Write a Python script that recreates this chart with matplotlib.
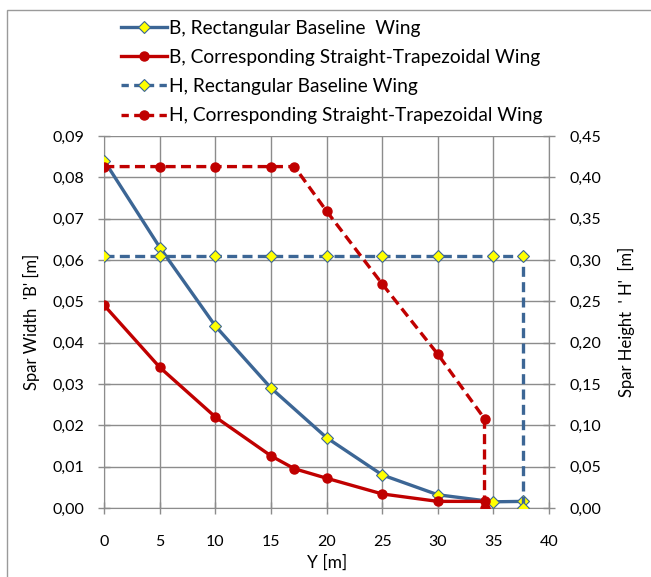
import matplotlib.pyplot as plt
from matplotlib.lines import Line2D
from matplotlib.patches import Rectangle

plt.rcParams["font.family"] = ["Lato", "DejaVu Sans"]

# B (spar width), rectangular baseline wing
y_b_rect = [0, 5, 10, 15, 20, 25, 30, 35, 37.66]
b_rect = [0.084, 0.063, 0.044, 0.029, 0.017, 0.008, 0.0032, 0.0015, 0.0016]

# B, corresponding straight-trapezoidal wing
y_b_trap = [0, 5, 10, 15, 17.1, 20, 25, 30, 34.2]
b_trap = [0.049, 0.034, 0.022, 0.0126, 0.0095, 0.0072, 0.0034, 0.0016, 0.0016]

# H (spar height), rectangular baseline wing
y_h_rect = [0, 5, 10, 15, 20, 25, 30, 35, 37.66, 37.66]
h_rect = [0.305, 0.305, 0.305, 0.305, 0.305, 0.305, 0.305, 0.305, 0.305, 0.0]

# H, corresponding straight-trapezoidal wing
y_h_trap = [0, 5, 10, 15, 17.1, 20, 25, 30, 34.2, 34.2]
h_trap = [0.413, 0.413, 0.413, 0.413, 0.413, 0.359, 0.271, 0.186, 0.108, 0.0]

labels = [
    "B, Rectangular Baseline  Wing",
    "B, Corresponding Straight-Trapezoidal Wing",
    "H, Rectangular Baseline Wing",
    "H, Corresponding Straight-Trapezoidal Wing",
]

BLUE = "#3c6695"
RED = "#c00000"
GRID = "#8c8c8c"
FS = 11.5

fig = plt.figure(figsize=(6.51, 5.77), dpi=100)
fig.patches.append(Rectangle((7 / 651, -0.1), 2.0, 1 - 10 / 577 + 0.1, transform=fig.transFigure,
                             fill=False, edgecolor="#9a9a9a", linewidth=1.0))
ax = fig.add_axes([104.3 / 651, 1 - 508 / 577, (549 - 104.3) / 651, (508 - 136) / 577])
ax2 = ax.twinx()

diamond = dict(marker="D", markersize=6.5, markerfacecolor="#ffff00", markeredgecolor=BLUE,
               markeredgewidth=0.8)
circle = dict(marker="o", markersize=6.5, markerfacecolor=RED, markeredgecolor=RED)
dash = (0, (3, 1.6))

ax.plot(y_b_rect, b_rect, color=BLUE, lw=2.4, zorder=4, **diamond)
ax.plot(y_b_trap, b_trap, color=RED, lw=2.4, zorder=4, **circle)
ax2.plot(y_h_rect, h_rect, color=BLUE, lw=2.4, ls=dash, zorder=4, **diamond)
ax2.plot(y_h_trap, h_trap, color=RED, lw=2.4, ls=dash, zorder=4, **circle)

ax.set_xlim(0, 40)
ax.set_ylim(0, 0.09)
ax2.set_ylim(0, 0.45)
ax.set_xticks(range(0, 41, 5))
ax.set_yticks([i / 100 for i in range(10)])
ax2.set_yticks([i * 0.05 for i in range(10)])
ax.set_yticklabels([f"{i / 100:.2f}".replace(".", ",") for i in range(10)], fontsize=FS)
ax2.set_yticklabels([f"{i * 0.05:.2f}".replace(".", ",") for i in range(10)], fontsize=FS)
ax.set_xticklabels([str(v) for v in range(0, 41, 5)], fontsize=FS)

ax.grid(True, color=GRID, lw=1.0)
ax.set_axisbelow(True)
for a in (ax, ax2):
    a.spines["top"].set_visible(False)
    for side in ("left", "right", "bottom"):
        a.spines[side].set_color(GRID)
    a.tick_params(axis="y", direction="inout", length=9, color=GRID, width=1.0, pad=10)
ax.tick_params(axis="x", direction="inout", length=9, color=GRID, width=1.0, pad=15)
ax2.spines["left"].set_visible(False)
ax2.spines["bottom"].set_visible(False)

ax.set_xlabel("Y [m]", fontsize=12.5, labelpad=4)
ax.set_ylabel("Spar Width  'B' [m]", fontsize=12, labelpad=9)
ax2.set_ylabel("Spar Height  ' H'  [m]", fontsize=12, labelpad=12)

handles = [
    Line2D([], [], color=BLUE, lw=2.4, **diamond),
    Line2D([], [], color=RED, lw=2.4, **circle),
    Line2D([], [], color=BLUE, lw=2.4, ls=(0, (2.2, 1.6)), **diamond),
    Line2D([], [], color=RED, lw=2.4, ls=(0, (2.2, 1.6)), **circle),
]
fig.legend(handles, labels, loc="upper left", bbox_to_anchor=(121 / 651, 1 - 20 / 577),
           frameon=False, fontsize=13.8, handlelength=2.4, handletextpad=0.1,
           labelspacing=0.63, borderaxespad=0, borderpad=0)

fig.savefig("out.png", dpi=100)
